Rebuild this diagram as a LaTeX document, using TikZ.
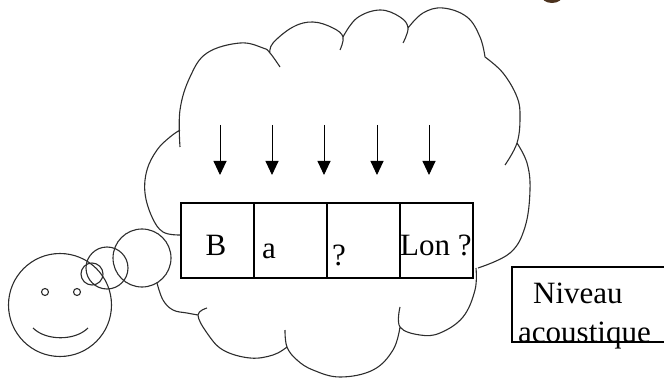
\documentclass[tikz,border=0pt]{standalone}
\usepackage{fontspec}
\setmainfont{Liberation Serif}
\usepackage{tikz}
\usetikzlibrary{arrows.meta,positioning}
\definecolor{inkgrey}{RGB}{45,45,45}
\definecolor{smudge}{RGB}{75,50,30}

\begin{document}
\begin{tikzpicture}[x=1pt,y=1pt,
      txt/.style={font=\fontsize{31}{37}\selectfont, inner sep=0pt},
      cell/.style={draw, line width=1.6pt, minimum width=73pt, minimum height=75pt, outer sep=0pt, inner sep=0pt},
      puff/.style={draw=inkgrey, line width=1.1pt},
      down/.style={-{Triangle[width=13pt,length=14pt]}, line width=0.9pt}]
    \useasboundingbox (0,0) rectangle (664,378);
    % thought cloud, one bump after the other
    \draw[puff, line join=round]
      plot[smooth, tension=0.65] coordinates {(180,143) (163,146) (152,161) (145,185) (147,208) (157,228) (170,241) (180,248)}
      plot[smooth, tension=0.65] coordinates {(180,231) (180,268) (190,301) (207,325) (240,335) (263,330) (270,325) (280,311)}
      plot[smooth, tension=0.65] coordinates {(270,325) (273,335) (293,351) (313,356) (333,350) (343,341) (340,328)}
      plot[smooth, tension=0.65] coordinates {(343,341) (357,360) (380,368) (400,361) (408,350) (403,335)}
      plot[smooth, tension=0.65] coordinates {(408,350) (423,365) (443,370) (467,361) (480,341) (485,321)}
      plot[smooth, tension=0.65] coordinates {(485,321) (503,305) (517,281) (520,261) (517,235) (505,213)}
      plot[smooth, tension=0.65] coordinates {(517,235) (527,215) (530,188) (525,151) (510,125) (478,110)}
      plot[smooth, tension=0.65] coordinates {(476,110) (475,88) (463,61) (440,45) (420,43) (400,51) (400,71)}
      plot[smooth, tension=0.65] coordinates {(400,51) (393,28) (373,8) (340,1) (313,8) (297,18) (287,31) (285,48)}
      plot[smooth, tension=0.65] coordinates {(287,31) (273,23) (250,20) (223,28) (207,45) (198,63) (207,70)}
      plot[smooth, tension=0.65] coordinates {(198,63) (187,65) (173,68) (163,78) (157,95)};
    % bubbles leading to the head
    \node[puff, circle, inner sep=0pt, minimum size=58pt] (bub3) at (142,120) {};
    \node[puff, circle, inner sep=0pt, minimum size=42pt] (bub2) at (107,110) {};
    \node[puff, circle, inner sep=0pt, minimum size=22pt] (bub1) at (92,104) {};
    % the head
    \node[puff, circle, inner sep=0pt, minimum size=103pt] (face) at (60,73) {};
    \node[puff, circle, inner sep=0pt, minimum size=7pt] (eyel) at (45,86) {};
    \node[puff, circle, inner sep=0pt, minimum size=7pt] (eyer) at (77,86) {};
    \draw[puff] (33,50) .. controls (46,37) and (75,37) .. (88,50);
    % row of cells
    \node[cell, anchor=south west] at (181,100) (c1) {};
    \node[cell, right=0pt of c1] (c2) {};
    \node[cell, right=0pt of c2] (c3) {};
    \node[cell, right=0pt of c3] (c4) {};
    \node[txt, anchor=base] at ([xshift=35pt,yshift=23pt]c1.south west) (tb) {B};
    \node[txt, anchor=base west] at ([xshift=8pt,yshift=20pt]c2.south west) (ta) {a};
    \node[txt, anchor=base west] at ([xshift=5pt,yshift=13pt]c3.south west) (tq) {?};
    \node[txt, anchor=base west] at ([xshift=0pt,yshift=23pt]c4.south west) (tlon) {Lon ?};
    % arrows into the cells
    \foreach \i/\x in {1/220,2/272,3/324,4/377,5/429} {
      \coordinate (s\i) at (\x,253);
      \coordinate (t\i) at (\x,203);
      \draw[down] (s\i) -- (t\i);
    }
    % level label
    \node[draw, line width=1.6pt, anchor=south west, minimum width=200pt, minimum height=75pt] at (511,35) (lvl) {};
    \node[txt, anchor=base west] at ([xshift=22pt,yshift=-37pt]lvl.north west) (niv) {Niveau};
    \node[txt, anchor=base west] at ([xshift=7pt,yshift=1pt]lvl.south west) (acou) {acoustique};
    % dark spot at the top edge
    \fill[smudge] (552,383) ellipse (11 and 8);
  \end{tikzpicture}
\end{document}
